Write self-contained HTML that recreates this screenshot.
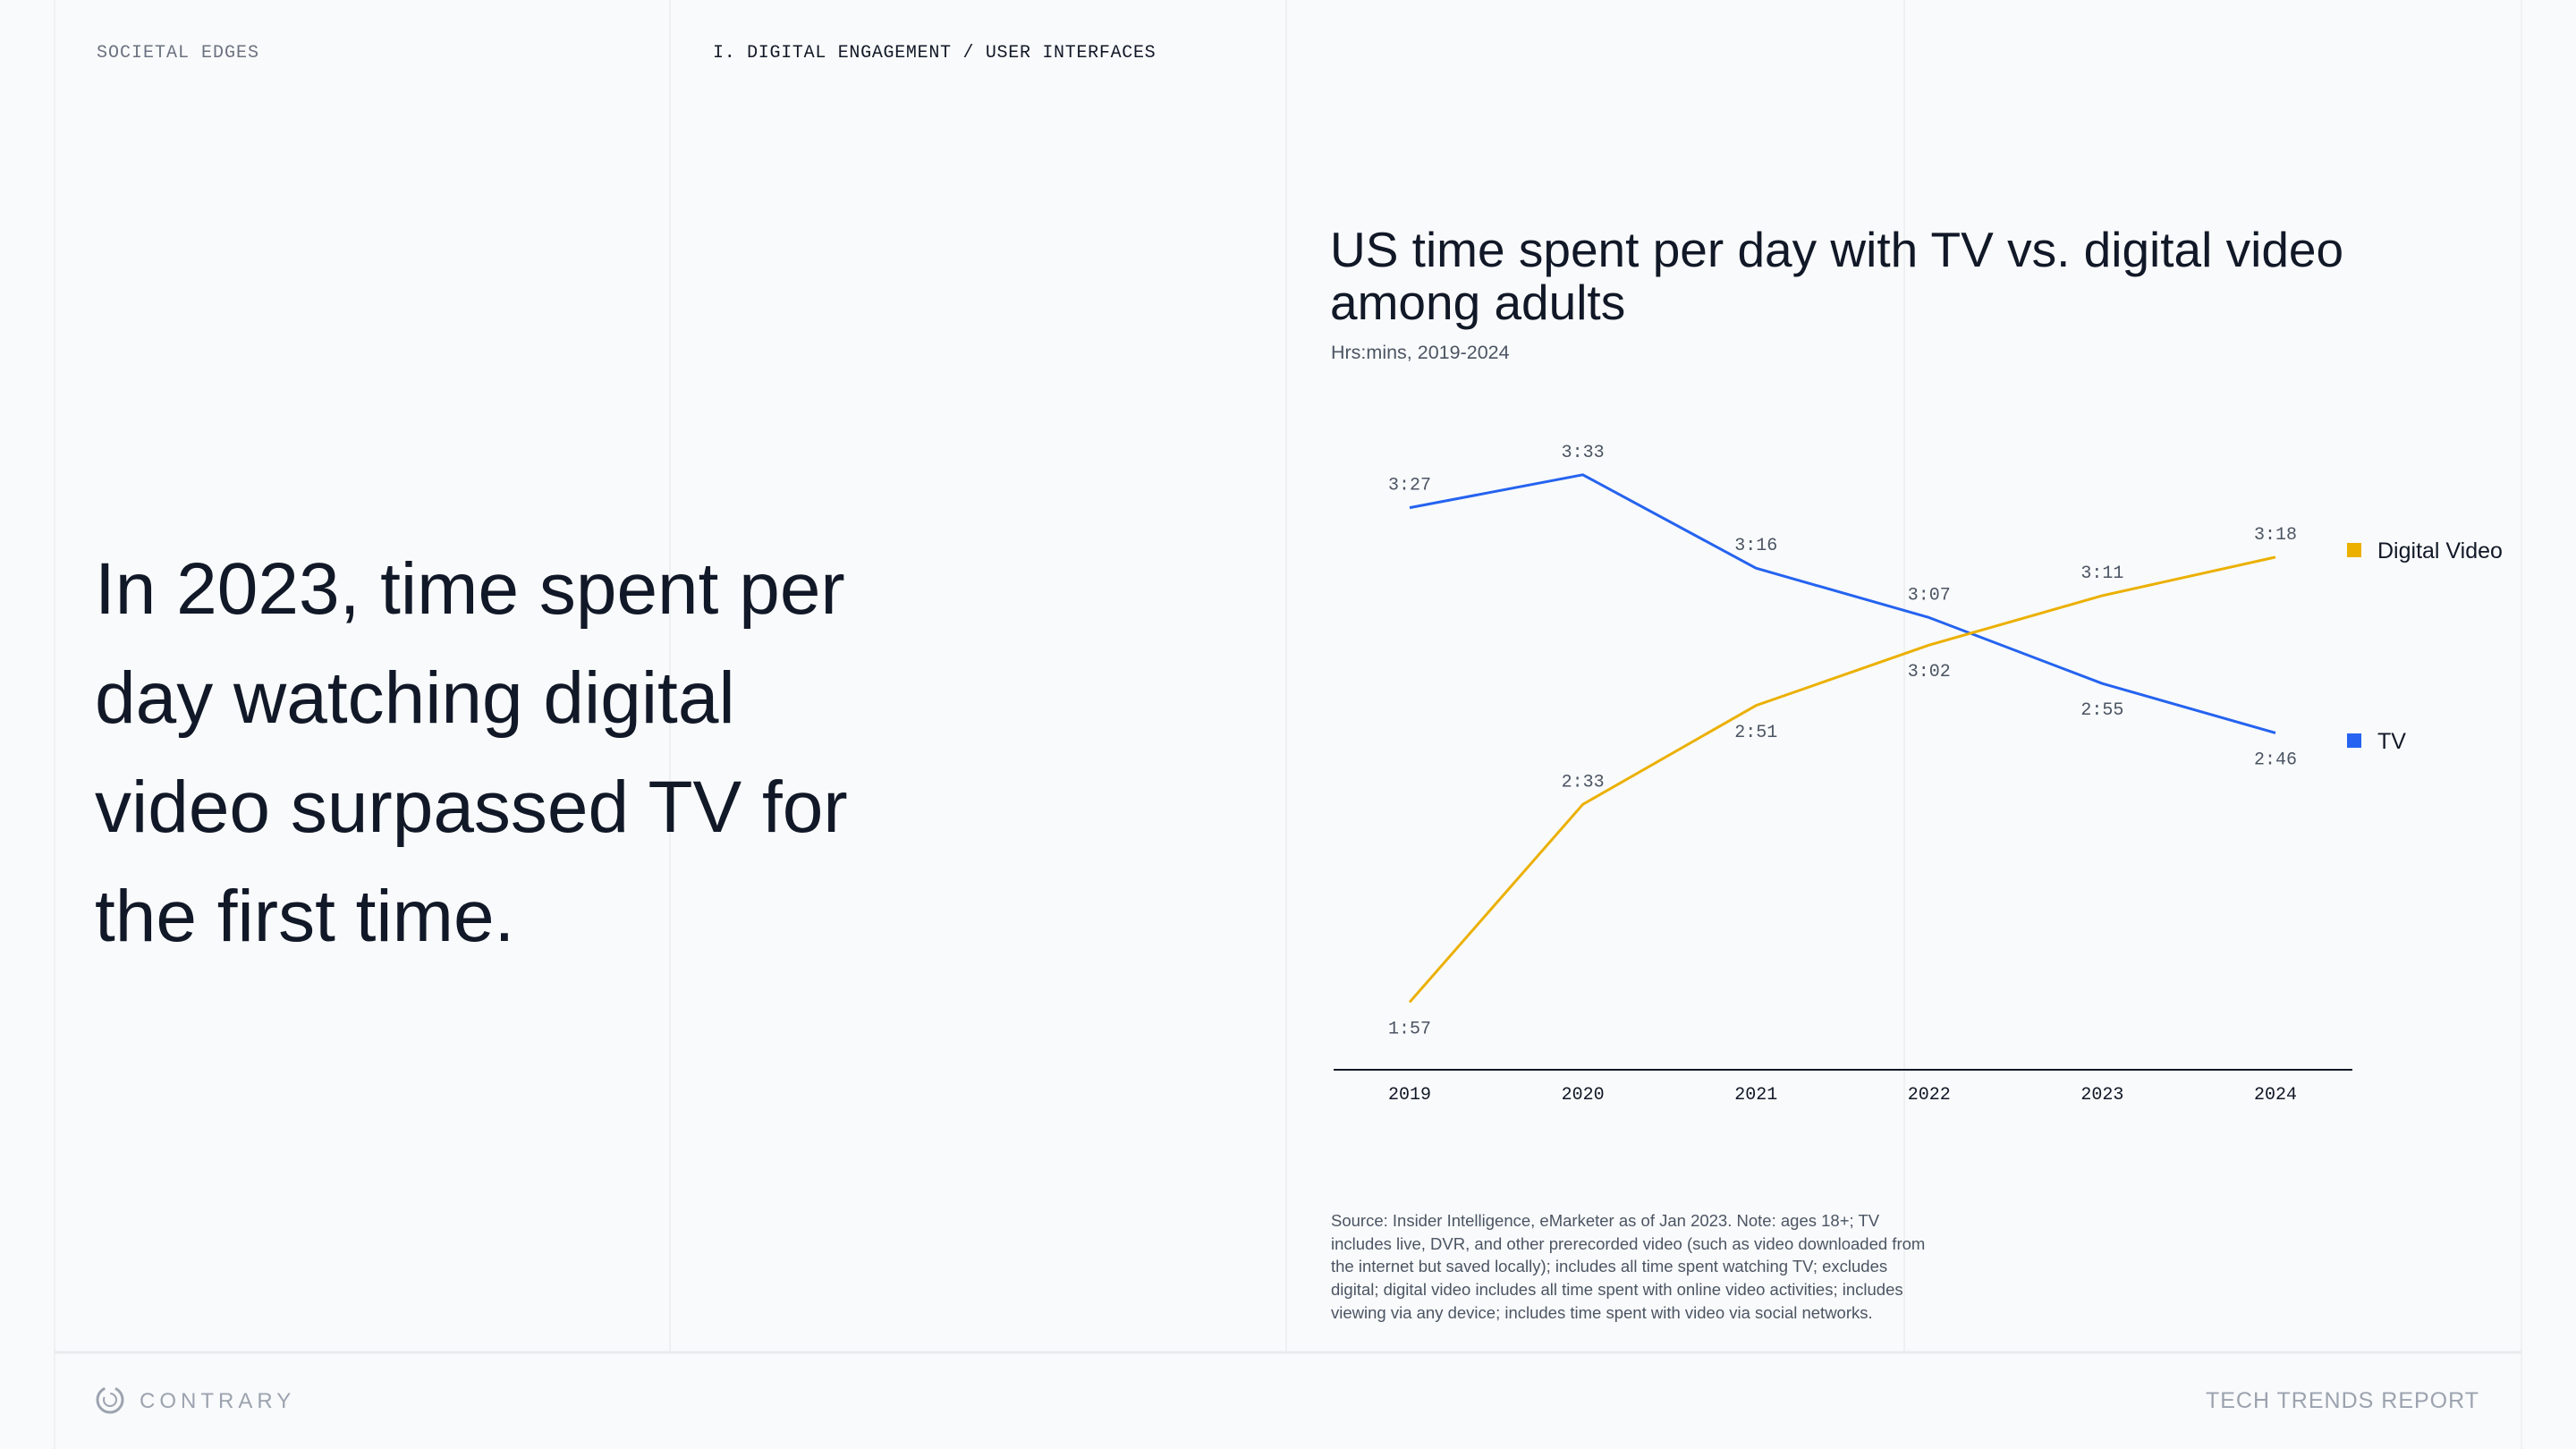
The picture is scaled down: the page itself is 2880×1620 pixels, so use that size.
<!DOCTYPE html>
<html><head><meta charset="utf-8">
<style>
html,body{margin:0;padding:0;background:#f9fafb;}
svg{display:block;}
</style></head>
<body>
<svg id="page" width="2880" height="1620" viewBox="0 0 2880 1620" xmlns="http://www.w3.org/2000/svg">
<rect width="2880" height="1620" fill="#f9fafb"/>
<g stroke="#eef0f2" stroke-width="2">
<line x1="61" y1="0" x2="61" y2="1620"/>
<line x1="749" y1="0" x2="749" y2="1512"/>
<line x1="1438" y1="0" x2="1438" y2="1512"/>
<line x1="2129" y1="0" x2="2129" y2="1512"/>
<line x1="2819" y1="0" x2="2819" y2="1620"/>
<line x1="61" y1="1512" x2="2819" y2="1512" stroke="#e9ebee" stroke-width="3"/>
</g>
<text x="108" y="64" font-family="Liberation Mono, monospace" font-size="20" fill="#6b7280" letter-spacing="1">SOCIETAL EDGES</text>
<text x="797" y="64" font-family="Liberation Mono, monospace" font-size="20" fill="#111827" letter-spacing="0.7">I. DIGITAL ENGAGEMENT / USER INTERFACES</text>
<g font-family="Liberation Sans, sans-serif" font-size="82" fill="#111827">
<text x="106" y="686">In 2023, time spent per</text>
<text x="106" y="808">day watching digital</text>
<text x="106" y="930">video surpassed TV for</text>
<text x="106" y="1052">the first time.</text>
</g>
<g font-family="Liberation Sans, sans-serif" font-size="55" fill="#111827">
<text x="1487" y="298">US time spent per day with TV vs. digital video</text>
<text x="1487" y="357">among adults</text>
</g>
<text x="1488" y="401" font-family="Liberation Sans, sans-serif" font-size="21.5" fill="#4b5563">Hrs:mins, 2019-2024</text>
<g id="chart"></g>
<g font-family="Liberation Sans, sans-serif" font-size="18.5" fill="#4b5563">
<text x="1488" y="1371">Source: Insider Intelligence, eMarketer as of Jan 2023. Note: ages 18+; TV</text>
<text x="1488" y="1397">includes live, DVR, and other prerecorded video (such as video downloaded from</text>
<text x="1488" y="1422">the internet but saved locally); includes all time spent watching TV; excludes</text>
<text x="1488" y="1448">digital; digital video includes all time spent with online video activities; includes</text>
<text x="1488" y="1474">viewing via any device; includes time spent with video via social networks.</text>
</g>
<g>
<circle cx="123" cy="1565" r="14" fill="none" stroke="#9ca3af" stroke-width="3" stroke-dasharray="60 12"/>
<circle cx="123" cy="1565" r="7" fill="none" stroke="#9ca3af" stroke-width="2" stroke-dasharray="25 8"/>
<text x="156" y="1574" font-family="Liberation Sans, sans-serif" font-size="24" fill="#9ca3af" letter-spacing="5">CONTRARY</text>
</g>
<text x="2772" y="1574" text-anchor="end" font-family="Liberation Sans, sans-serif" font-size="25" fill="#9ca3af" letter-spacing="1">TECH TRENDS REPORT</text>
</svg>
<script>
const years = ['2019','2020','2021','2022','2023','2024'];
const tvMinutes = [207, 213, 196, 187, 175, 166];
const digitalMinutes = [117, 153, 171, 182, 191, 198];
const tvLabelAbove = [true, true, true, true, false, false];
const digitalLabelAbove = [false, true, false, false, true, true];

const NS = 'http://www.w3.org/2000/svg';
const chart = document.getElementById('chart');
function xScale(i){ return 1576 + i * 193.6; }
function yScale(v){ return 530.8 + (213 - v) * 6.142; }
function fmt(m){ const h = Math.floor(m/60), mm = m%60; return h + ':' + (mm<10?'0':'') + mm; }
function mk(tag, attrs){ const e = document.createElementNS(NS, tag); for (const k in attrs) e.setAttribute(k, attrs[k]); chart.appendChild(e); return e; }

const axis = mk('line', {x1:1491, y1:1196, x2:2630, y2:1196, stroke:'#111827', 'stroke-width':2});



years.forEach((y, i) => {
  const t = mk('text', {x:xScale(i), y:1229, 'text-anchor':'middle', 'font-family':'Liberation Mono, monospace', 'font-size':20, fill:'#111827'});
  t.textContent = y;
  
  
});

function series(vals, above, color, name){
  const pts = vals.map((v, i) => xScale(i) + ',' + yScale(v)).join(' ');
  const pl = mk('polyline', {points:pts, fill:'none', stroke:color, 'stroke-width':3, 'stroke-linejoin':'round'});
  
  
  vals.forEach((v, i) => {
    const t = mk('text', {x:xScale(i), y:yScale(v) + (above[i] ? -20 : 35), 'text-anchor':'middle', 'font-family':'Liberation Mono, monospace', 'font-size':20, fill:'#4b5563'});
    t.textContent = fmt(v);
    
    
  });
}
series(tvMinutes, tvLabelAbove, '#2563f0', 'tv');
series(digitalMinutes, digitalLabelAbove, '#ebb000', 'digital-video');

function legend(y, color, label, name){
  const r = mk('rect', {x:2624, y:y-8, width:16, height:16, fill:color});
  
  
  const t = mk('text', {x:2658, y:y+9, 'font-family':'Liberation Sans, sans-serif', 'font-size':25, fill:'#111827'});
  t.textContent = label;
  
  
}
legend(615, '#ebb000', 'Digital Video', 'digital-video');
legend(828, '#2563f0', 'TV', 'tv');
</script>
</body></html>
